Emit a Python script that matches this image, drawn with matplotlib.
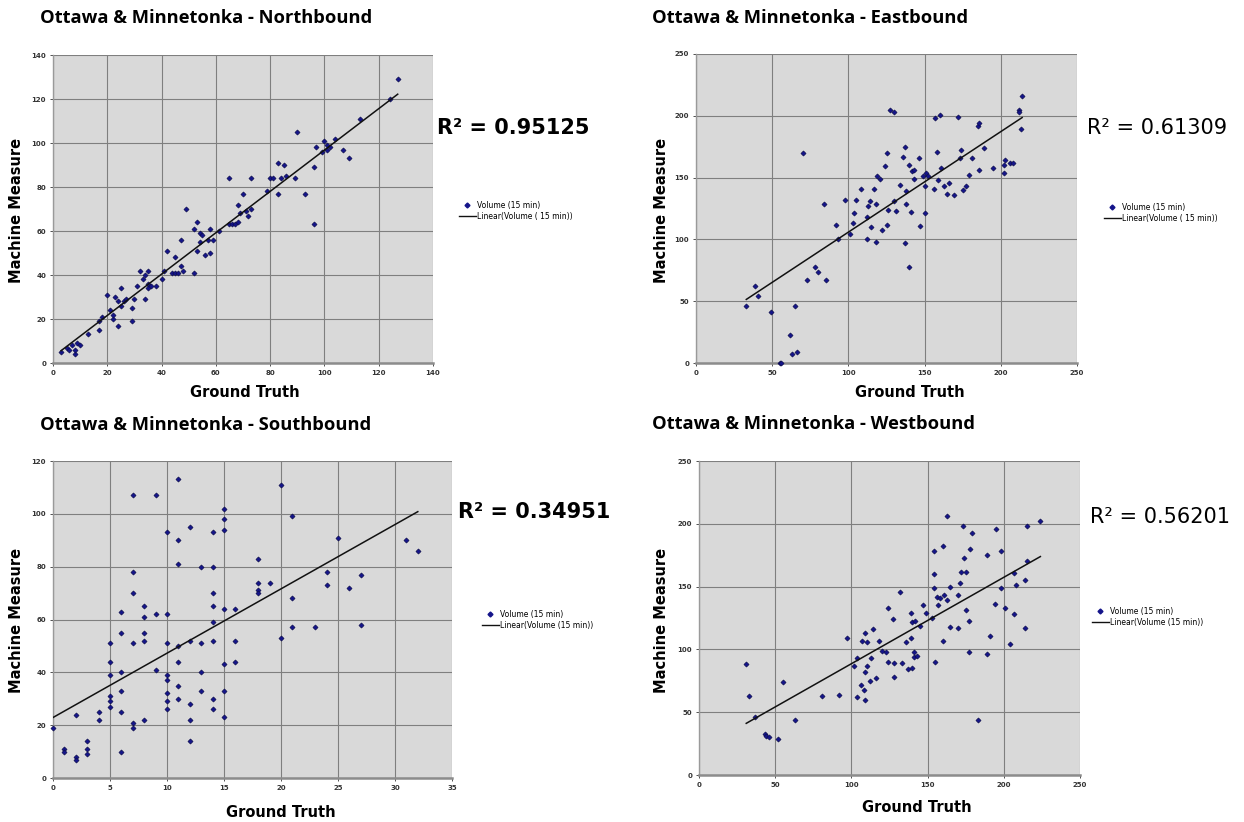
import matplotlib.pyplot as plt
import matplotlib.lines as mlines
import numpy as np

# ---- data ----
titles = ['Ottawa & Minnetonka - Northbound', 'Ottawa & Minnetonka - Eastbound',
          'Ottawa & Minnetonka - Southbound', 'Ottawa & Minnetonka - Westbound']
r2_labels = ['R² = 0.95125', 'R² = 0.61309', 'R² = 0.34951', 'R² = 0.56201']
line_labels = ['Linear(Volume ( 15 min))', 'Linear(Volume ( 15 min))',
               'Linear(Volume (15 min))', 'Linear(Volume (15 min))']

nb_pts = [(3, 5), (5, 7), (6, 6), (7, 8), (8, 4), (8, 6), (9, 9), (10, 8), (13, 13), (17, 15),
          (17, 19), (18, 21), (20, 31), (21, 24), (22, 20), (22, 22), (23, 30), (24, 28), (24, 17),
          (25, 34), (25, 26), (26, 28), (27, 29), (29, 19), (29, 25), (30, 29), (31, 35), (32, 42),
          (33, 38), (34, 29), (34, 40), (35, 42), (35, 34), (35, 36), (36, 35), (38, 35), (40, 38),
          (41, 42), (42, 51), (44, 41), (45, 48), (45, 41), (46, 41), (47, 56), (47, 44), (48, 42),
          (49, 70), (52, 41), (52, 61), (53, 64), (53, 51), (54, 59), (54, 55), (55, 58), (56, 49),
          (57, 56), (58, 61), (58, 50), (59, 56), (61, 60), (65, 84), (65, 63), (66, 63),
          (67, 63), (68, 64), (68, 72), (69, 68), (70, 77), (71, 69), (72, 67), (73, 84), (73, 70),
          (79, 78), (80, 84), (81, 84), (83, 91), (83, 77), (84, 84), (85, 90), (86, 85), (89, 84),
          (90, 105), (93, 77), (96, 63), (96, 89), (97, 98), (99, 96), (100, 101), (101, 99),
          (101, 97), (102, 98), (104, 102), (107, 97), (109, 93), (113, 111), (124, 120), (127, 129)]

eb_pts = [(33, 46), (39, 62), (41, 54), (49, 41), (55, 0), (56, 0), (62, 23), (63, 7), (65, 46),
          (66, 9), (70, 170), (73, 67), (78, 78), (80, 74), (84, 129), (85, 67), (92, 112), (93, 100),
          (98, 132), (101, 104), (103, 113), (104, 121), (105, 132), (108, 141), (112, 118), (112, 100),
          (113, 127), (114, 131), (115, 110), (117, 141), (118, 129), (118, 98), (119, 151), (121, 149),
          (122, 108), (124, 159), (125, 170), (125, 112), (126, 124), (127, 205), (130, 203), (130, 131),
          (131, 123), (134, 144), (136, 167), (137, 175), (137, 97), (138, 139), (138, 129), (140, 160),
          (140, 78), (141, 122), (142, 155), (143, 156), (143, 149), (146, 166), (147, 111), (149, 151),
          (150, 143), (150, 121), (151, 154), (152, 151), (156, 141), (157, 198), (158, 171), (159, 148),
          (160, 201), (161, 158), (163, 143), (165, 137), (166, 146), (169, 136), (172, 199), (173, 166),
          (174, 172), (175, 140), (177, 143), (179, 152), (181, 166), (185, 192), (186, 194), (186, 156),
          (189, 174), (195, 158), (202, 160), (202, 154), (203, 164), (206, 162), (208, 162), (212, 205),
          (212, 203), (213, 189), (214, 216)]

sb_pts = [(0, 19), (1, 11), (1, 10), (2, 8), (2, 7), (3, 14), (3, 11), (3, 9), (2, 24), (4, 25),
          (4, 22), (5, 51), (5, 44), (5, 39), (5, 31), (5, 29), (5, 27), (6, 63), (6, 55), (6, 40),
          (6, 33), (6, 25), (6, 10), (7, 107), (7, 78), (7, 70), (7, 51), (7, 21), (7, 19), (8, 65),
          (8, 61), (8, 55), (8, 52), (8, 22), (9, 107), (9, 62), (9, 41), (10, 93), (10, 62), (10, 51),
          (10, 39), (10, 37), (10, 32), (10, 29), (10, 26), (11, 113), (11, 90), (11, 81), (11, 50),
          (11, 44), (11, 35), (11, 30), (12, 95), (12, 52), (12, 28), (12, 22), (12, 14), (13, 80),
          (13, 51), (13, 40), (13, 33), (14, 93), (14, 80), (14, 70), (14, 65), (14, 59), (14, 52),
          (14, 30), (14, 26), (15, 102), (15, 98), (15, 94), (15, 64), (15, 43), (15, 33), (15, 23),
          (16, 64), (16, 52), (16, 44), (18, 83), (18, 74), (18, 71), (18, 70), (19, 74), (20, 111),
          (20, 53), (21, 99), (21, 68), (21, 57), (23, 57), (24, 78), (24, 73), (25, 91), (26, 72),
          (27, 77), (27, 58), (31, 90), (32, 86)]

wb_pts = [(31, 88), (33, 63), (37, 46), (43, 33), (44, 31), (46, 30), (52, 29), (55, 74), (63, 44),
          (81, 63), (92, 64), (97, 109), (102, 87), (104, 93), (104, 62), (106, 72), (107, 107),
          (108, 68), (109, 113), (109, 60), (109, 82), (110, 87), (110, 106), (112, 75), (113, 93),
          (114, 116), (116, 77), (118, 107), (120, 99), (123, 98), (124, 133), (124, 90), (127, 124),
          (128, 78), (128, 89), (132, 146), (133, 89), (136, 106), (137, 84), (139, 109), (139, 129),
          (140, 85), (140, 122), (141, 94), (141, 98), (142, 123), (143, 95), (145, 119), (147, 135),
          (149, 129), (153, 125), (154, 178), (154, 160), (154, 149), (155, 90), (156, 142), (157, 135),
          (158, 141), (160, 182), (160, 107), (161, 143), (163, 206), (163, 139), (165, 150), (165, 118),
          (170, 117), (170, 143), (171, 153), (172, 162), (173, 198), (174, 173), (175, 162), (175, 131),
          (177, 123), (177, 98), (178, 180), (179, 193), (183, 44), (189, 96), (189, 175), (191, 111),
          (194, 136), (195, 196), (198, 178), (198, 149), (201, 133), (204, 104), (207, 128), (207, 161),
          (208, 151), (214, 117), (214, 155), (215, 170), (215, 198), (224, 202)]

# trend lines (slope, intercept)
slopes = [0.94, 0.813, 2.435, 0.688]
intercepts = [2.8, 24.6, 22.9, 19.8]

x_limits = [(0, 140), (0, 250), (0, 35), (0, 250)]
y_limits = [(0, 140), (0, 250), (0, 120), (0, 250)]
x_steps = [20, 50, 5, 50]
y_steps = [20, 50, 20, 50]

datasets = [nb_pts, eb_pts, sb_pts, wb_pts]

W, H = 1244, 822
fig = plt.figure(figsize=(W / 100, H / 100), dpi=100)

# panel placement in pixels: left, top, right, bottom
boxes = [(53, 55, 433, 363), (696, 54, 1077, 363), (53, 461, 452, 778), (699, 461, 1080, 775)]
title_pos = [(40, 18), (652, 18), (40, 425), (652, 424)]
r2_pos = [(437, 128), (1087, 128), (458, 512), (1090, 517)]
r2_weight = ['bold', 'normal', 'bold', 'normal']
legend_pos = [(455, 197), (1100, 199), (478, 606), (1088, 603)]
# centre of axis-label text, in pixels
xlabel_xy = [(245, 392), (910, 392), (281, 812), (917, 807)]
ylabel_xy = [(17, 210), (662, 210), (17, 620), (662, 620)]

for i, pts in enumerate(datasets):
    l, t, r, b = boxes[i]
    ax = fig.add_axes([l / W, 1 - b / H, (r - l) / W, (b - t) / H])
    ax.set_facecolor('#d9d9d9')
    xs = np.array([p[0] for p in pts], dtype=float)
    ys = np.array([p[1] for p in pts], dtype=float)

    ax.scatter(xs, ys, marker='D', s=7, color='#14148a', edgecolors='#080840',
               linewidths=0.4, zorder=3, clip_on=False)
    lx = np.array([xs.min(), xs.max()])
    ax.plot(lx, slopes[i] * lx + intercepts[i], color='#111111', lw=1.1, zorder=4)

    ax.set_xlim(*x_limits[i])
    ax.set_ylim(*y_limits[i])
    ax.set_xticks(np.arange(x_limits[i][0], x_limits[i][1] + 1, x_steps[i]))
    ax.set_yticks(np.arange(y_limits[i][0], y_limits[i][1] + 1, y_steps[i]))
    ax.grid(True, color='#7f7f7f', lw=0.8)
    ax.set_axisbelow(True)
    for s in ['top', 'right']:
        ax.spines[s].set_visible(False)
    ax.spines['left'].set_color('#9a9a9a')
    ax.spines['left'].set_linewidth(1.0)
    ax.spines['bottom'].set_color('#8c8c8c')
    ax.spines['bottom'].set_linewidth(1.8)
    ax.tick_params(labelsize=5, colors='#333333', length=2, width=0.6, pad=3)
    for lab in ax.get_xticklabels() + ax.get_yticklabels():
        lab.set_fontweight('bold')

    # axis titles placed as figure text
    xx, xy = xlabel_xy[i]
    fig.text(xx / W, 1 - xy / H, 'Ground Truth', fontsize=10.5, fontweight='bold',
             family='DejaVu Sans', ha='center', va='center')
    yx, yy = ylabel_xy[i]
    fig.text(yx / W, 1 - yy / H, 'Machine Measure', fontsize=10.5, fontweight='bold',
             family='DejaVu Sans', ha='center', va='center', rotation=90)

    tx, ty = title_pos[i]
    fig.text(tx / W, 1 - ty / H, titles[i], fontsize=13.2, fontweight='bold',
             family='Open Sans', ha='left', va='center')
    rx, ry = r2_pos[i]
    fig.text(rx / W, 1 - ry / H, r2_labels[i], fontsize=15, fontweight=r2_weight[i],
             family='DejaVu Sans', ha='left', va='center')

    h_pts = mlines.Line2D([], [], marker='D', ls='none', color='#14148a', markersize=2.5)
    h_line = mlines.Line2D([], [], color='#111111', lw=1.0)
    gx, gy = legend_pos[i]
    fig.legend([h_pts, h_line], ['Volume (15 min)', line_labels[i]], loc='upper left',
               bbox_to_anchor=(gx / W, 1 - gy / H), frameon=False, fontsize=5.5,
               handlelength=2.2, handletextpad=0.2, labelspacing=0.3, borderpad=0)

fig.savefig('out.png', dpi=100, facecolor='white')
